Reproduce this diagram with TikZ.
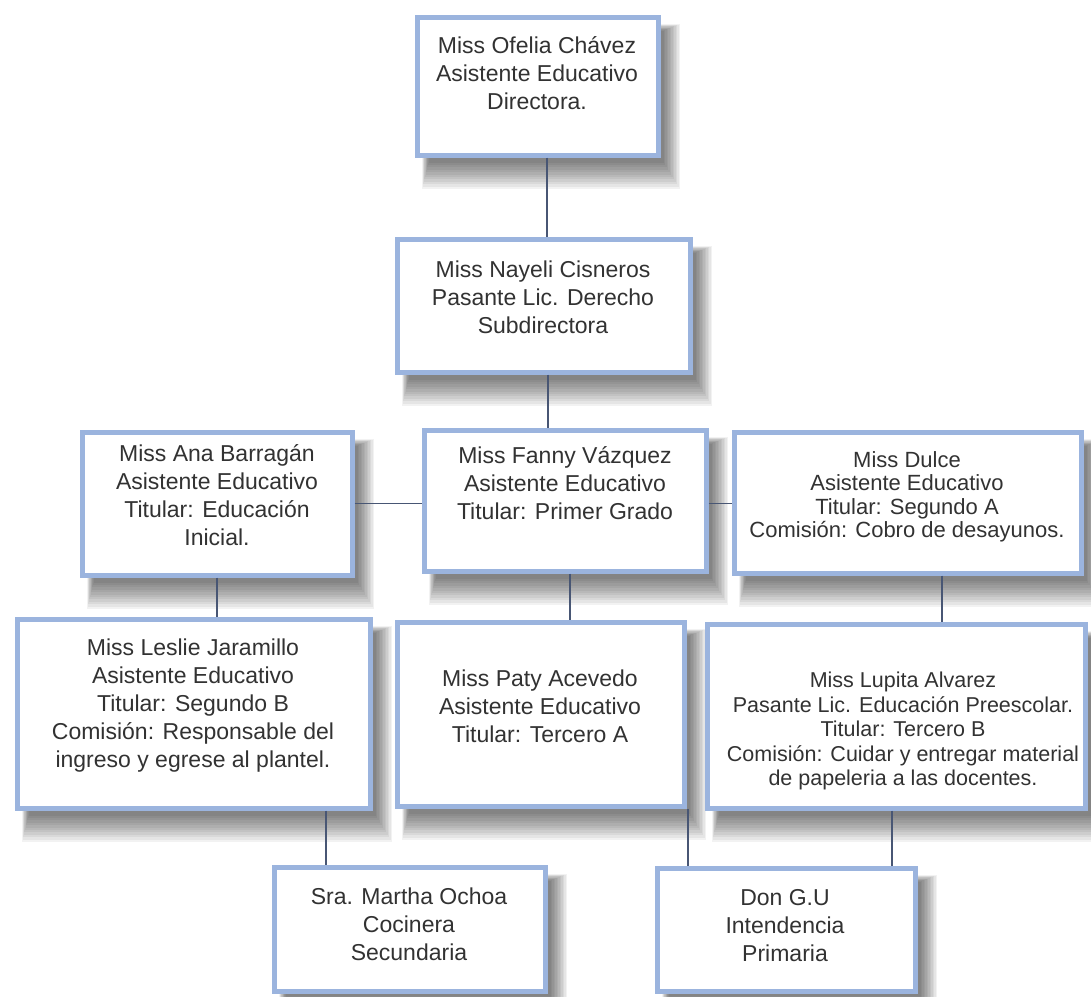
\documentclass[tikz,border=0pt]{standalone}
\usepackage{fontspec}
\setmainfont{Liberation Sans}
\usetikzlibrary{calc,backgrounds}
\definecolor{bord}{RGB}{155,180,222}
\definecolor{linkc}{RGB}{72,86,116}
\definecolor{txtc}{RGB}{50,50,50}
\tikzset{
 box/.style={draw=bord, line width=5pt, fill=white, inner sep=0pt},
 txt/.style={align=center, text=txtc, font=\fontsize{23}{28}\selectfont, inner sep=0pt},
 txts/.style={txt, font=\fontsize{21.5}{24.5}\selectfont},
 txtd/.style={txt, font=\fontsize{22}{23.5}\selectfont},
 link/.style={draw=linkc, line width=1.2pt},
 shade layer/.style={fill=black, opacity=0.05}
}
\begin{document}
\begin{tikzpicture}[x=1pt,y=-1pt]
\useasboundingbox (0,0) rectangle (1091,996);
% boxes
\node[box, minimum width=241pt, minimum height=138pt] (ofelia) at (537.5,86) {};
\node[box, minimum width=293pt, minimum height=133pt] (nayeli) at (543.5,305.5) {};
\node[box, minimum width=270pt, minimum height=143pt] (ana) at (217,503.5) {};
\node[box, minimum width=282pt, minimum height=141pt] (fanny) at (565,500.5) {};
\node[box, minimum width=347pt, minimum height=141pt] (dulce) at (907.5,502.5) {};
\node[box, minimum width=353pt, minimum height=189pt] (leslie) at (193.5,713.5) {};
\node[box, minimum width=287pt, minimum height=184pt] (paty) at (540.5,714) {};
\node[box, minimum width=378pt, minimum height=184pt] (lupita) at (896,716) {};
\node[box, minimum width=271pt, minimum height=124pt] (martha) at (409.5,929) {};
\node[box, minimum width=258pt, minimum height=123pt] (don) at (786,929.5) {};
% soft shadows
\begin{pgfonlayer}{background}
\fill[white] (0,0) rectangle (1091,996);
\foreach \n in {ofelia,nayeli,ana,fanny,dulce,leslie,paty,lupita,martha,don}{
  \foreach \k in {0,...,11}{
    \fill[shade layer] ($(\n.north west)+(14-0.6*\k,16-0.6*\k)$) rectangle ($(\n.south east)+(3+1.5*\k,5+2.4*\k)$);
  }
}
\end{pgfonlayer}
% connectors
\draw[link] ($(ofelia.south)+(9.5,0)$) -- ($(nayeli.north)+(3.5,0)$);
\draw[link] ($(nayeli.south)+(4.5,0)$) -- ($(fanny.north)+(-17,0)$);
\draw[link] (ana.east) -- (ana.east -| fanny.west);
\draw[link] (fanny.east |- ana.east) -- (dulce.west |- ana.east);
\draw[link] (ana.south) -- ($(leslie.north)+(23.5,0)$);
\draw[link] ($(fanny.south)+(5,0)$) -- ($(paty.north)+(29.5,0)$);
\draw[link] ($(dulce.south)+(34.5,0)$) -- ($(lupita.north)+(46,0)$);
\draw[link] ($(leslie.south)+(132.5,0)$) -- ($(martha.north)+(-83.5,0)$);
\draw[link] ($(paty.south)+(147.5,0)$) -- ($(don.north)+(-98,0)$);
\draw[link] ($(lupita.south)+(-4,0)$) -- ($(don.north)+(106,0)$);
% texts
\node[txt] (ofeliat) at (537,73) {Miss Ofelia Chávez\\Asistente Educativo\\Directora.};
\node[txt] (nayelit) at (543,297) {Miss Nayeli Cisneros\\Pasante Lic. Derecho\\Subdirectora};
\node[txt] (anat) at (217,495) {Miss Ana Barragán\\Asistente Educativo\\Titular: Educación\\Inicial.};
\node[txt] (fannyt) at (565,483) {Miss Fanny Vázquez\\Asistente Educativo\\Titular: Primer Grado};
\node[txtd] (dulcet) at (907,497) {Miss Dulce\\Asistente Educativo\\Titular: Segundo A\\Comisión: Cobro de desayunos.};
\node[txt] (lesliet) at (193,706) {Miss Leslie Jaramillo\\Asistente Educativo\\Titular: Segundo B\\Comisión: Responsable del\\ingreso y egrese al plantel.};
\node[txt] (patyt) at (540,706) {Miss Paty Acevedo\\Asistente Educativo\\Titular: Tercero A};
\node[txts] (lupitat) at (903,731) {Miss Lupita Alvarez\\Pasante Lic. Educación Preescolar.\\Titular: Tercero B\\Comisión: Cuidar y entregar material\\de papeleria a las docentes.};
\node[txt] (marthat) at (409,924) {Sra. Martha Ochoa\\Cocinera\\Secundaria};
\node[txt] (dont) at (785,926) {Don G.U\\Intendencia\\Primaria};
\end{tikzpicture}
\end{document}
